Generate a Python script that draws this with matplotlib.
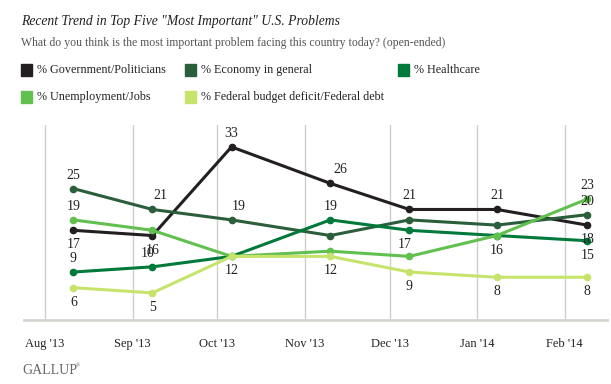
import datetime as dt
import matplotlib
matplotlib.use("Agg")
import matplotlib.pyplot as plt
import matplotlib.dates as mdates

# poll end dates
dates = [dt.date(2013, 8, 11), dt.date(2013, 9, 8), dt.date(2013, 10, 6),
         dt.date(2013, 11, 10), dt.date(2013, 12, 8), dt.date(2014, 1, 8),
         dt.date(2014, 2, 9)]
month_ticks = [dt.date(2013, 8, 1), dt.date(2013, 9, 1), dt.date(2013, 10, 1),
               dt.date(2013, 11, 1), dt.date(2013, 12, 1), dt.date(2014, 1, 1),
               dt.date(2014, 2, 1)]
tick_labels = ["Aug '13", "Sep '13", "Oct '13", "Nov '13", "Dec '13", "Jan '14", "Feb '14"]

names = ["% Government/Politicians", "% Economy in general", "% Healthcare",
         "% Unemployment/Jobs", "% Federal budget deficit/Federal debt"]
government = [17, 16, 33, 26, 21, 21, 18]
economy = [25, 21, 19, 16, 19, 18, 20]
healthcare = [9, 10, 12, 19, 17, 16, 15]
unemployment = [19, 17, 12, 13, 12, 16, 23]
deficit = [6, 5, 12, 12, 9, 8, 8]
series = [government, economy, healthcare, unemployment, deficit]
colors = ["#231f20", "#2b5e3b", "#00793a", "#62c050", "#c6e46c"]

# which points get a value label: (series index, point index, side, x shift px)
labels = [
    (0, 0, "below", 0), (0, 1, "below", 0), (0, 2, "above", 0), (0, 3, "above", 10),
    (0, 4, "above", 0), (0, 5, "above", 0), (0, 6, "below", 0),
    (1, 0, "above", 0), (1, 1, "above", 8), (1, 2, "above", 7), (1, 6, "above", 0),
    (2, 0, "above", 0), (2, 1, "above", -5), (2, 3, "above", 0), (2, 4, "below", -5),
    (2, 6, "below", 0),
    (3, 0, "above", 0), (3, 2, "below", 0), (3, 5, "below", 0), (3, 6, "above", 0),
    (4, 0, "below", 0), (4, 1, "below", 0), (4, 3, "below", 0), (4, 4, "below", 0),
    (4, 5, "below", 0), (4, 6, "below", 0),
]

serif = ["Liberation Serif", "DejaVu Serif"]

fig = plt.figure(figsize=(6.11, 3.84), dpi=100)
ax = fig.add_axes([24 / 611, 64 / 384, 583 / 611, 195 / 384])

for vals, c in zip(series, colors):
    ax.plot(dates, vals, color=c, lw=2.2, marker="o", ms=4.5, zorder=3,
            solid_capstyle="round")

for si, pi, side, dx in labels:
    dy = 7 if side == "above" else -8
    va = "bottom" if side == "above" else "top"
    ax.annotate(str(series[si][pi]), (dates[pi], series[si][pi]),
                xytext=(dx * 0.72, dy * 0.72), textcoords="offset points",
                ha="center", va=va, fontsize=10, family=serif, color="#222222",
                zorder=4)

ax.set_xlim(mdates.date2num(dt.date(2013, 7, 24)) + 0.5,
            mdates.date2num(dt.date(2014, 2, 16)))
ax.set_ylim(-0.2, 37.2)
ax.set_xticks(month_ticks)
ax.set_xticklabels(tick_labels, family=serif, fontsize=9, color="#222222")
ax.tick_params(axis="x", length=0, pad=13)
ax.set_yticks([])
ax.grid(axis="x", color="#cfcfcb", lw=1)
for s in ["top", "left", "right"]:
    ax.spines[s].set_visible(False)
ax.spines["bottom"].set_color("#d5d5d0")
ax.spines["bottom"].set_linewidth(2)

fig.text(21 / 611, 1 - 21.5 / 384, 'Recent Trend in Top Five "Most Important" U.S. Problems',
         family=serif, style="italic", fontsize=9.8, color="#222222", va="center")
fig.text(21 / 611, 1 - 43 / 384,
         "What do you think is the most important problem facing this country today? (open-ended)",
         family=serif, fontsize=8.5, color="#555555", va="center")

legend_pos = [(21, 70), (185, 70), (398, 70), (21, 97), (185, 97)]
for (lx, ly), name, c in zip(legend_pos, names, colors):
    fig.patches.append(plt.Rectangle((lx / 611, 1 - (ly + 5.5) / 384), 11 / 611, 11 / 384,
                                     transform=fig.transFigure, color=c))
    fig.text((lx + 16) / 611, 1 - ly / 384, name, family=serif, fontsize=8.7,
             color="#222222", va="center")

fig.text(22 / 611, 1 - 370 / 384, "GALLUP", family=serif, fontsize=10,
         color="#666666", va="center")
fig.text(76 / 611, 1 - 366 / 384, "®", family=serif, fontsize=4,
         color="#666666", va="center")

fig.savefig("out.png", dpi=100)
